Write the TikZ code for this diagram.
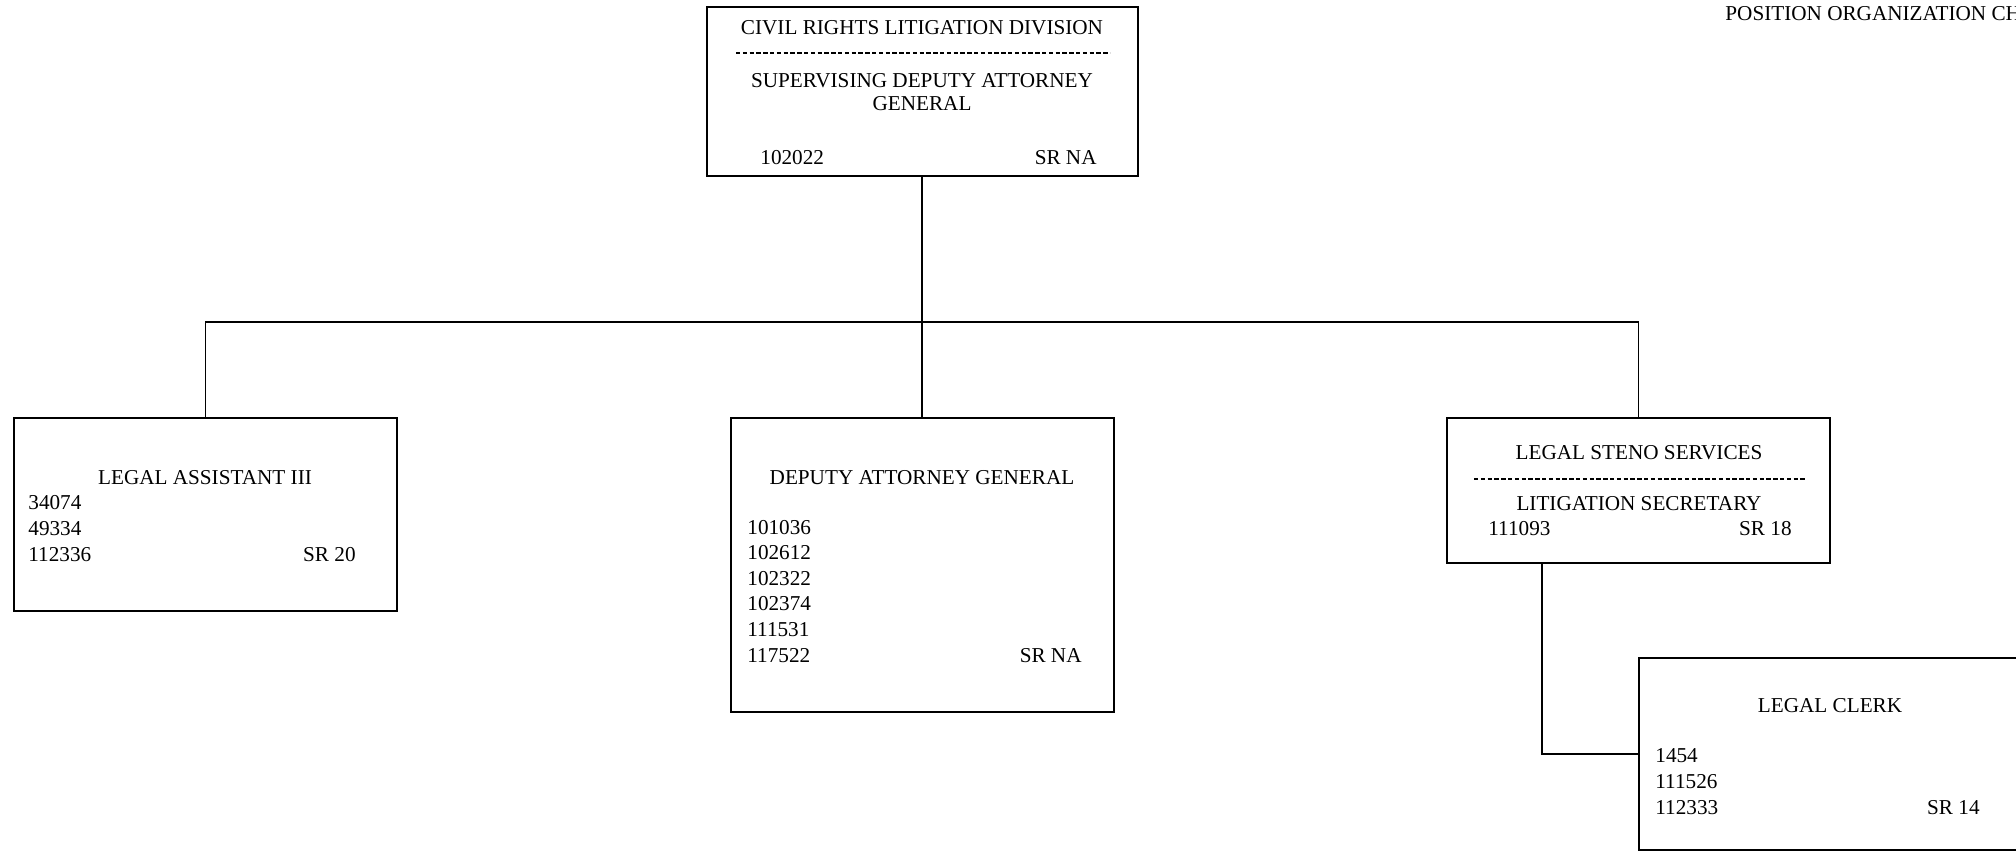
\documentclass[tikz,border=0pt]{standalone}
\usepackage{fontspec}
\setmainfont{Liberation Serif}
\usetikzlibrary{positioning}

\newcommand{\chartfont}{\fontsize{10.6}{12.8}\selectfont}

\begin{document}
\begin{tikzpicture}[x=0.5pt, y=-0.5pt, font=\chartfont,
    posbox/.style={draw, line width=1pt, inner sep=0pt, minimum width=191.5pt},
    txt/.style={inner sep=0pt},
    link/.style={line width=0.7pt},
    sep/.style={line width=0.6pt, dash pattern=on 2.2pt off 1.2pt}]
    \useasboundingbox (0,0) rectangle (2016,851);
    \clip (0,0) rectangle (2016,851);

    % Boxes {div, asst, dag, steno, clerk}
    \node [posbox, minimum width=215.5pt, minimum height=84.5pt] (div)   at (922,91.5)    {};
    \node [posbox, minimum height=96.5pt]                        (asst)  at (205.5,514.5) {};
    \node [posbox, minimum height=147pt]                         (dag)   at (922,565)     {};
    \node [posbox, minimum height=72.5pt]                        (steno) at (1638.5,490.5) {};
    \node [posbox, minimum height=96pt]                          (clerk) at (1830.5,754)  {};

    % Title
    \node [txt, anchor=base west] (title) at (1725,20) {POSITION ORGANIZATION CHART};

    % Division box
    \node [txt, anchor=base] (divname) at (922,34) {CIVIL RIGHTS LITIGATION DIVISION};
    \draw [sep] (736,53) -- (1110,53);
    \node [txt, anchor=base, align=center, font=\fontsize{10.6}{11.5}\selectfont] (divtitle) at (922,110) {SUPERVISING DEPUTY ATTORNEY\\GENERAL};
    \node [txt, anchor=base west] (divnum) at (760,164)  {102022};
    \node [txt, anchor=base east] (divsr)  at (1097,164) {SR NA};

    % Legal assistant box
    \node [txt, anchor=base] (asstname) at (205,484) {LEGAL ASSISTANT III};
    \node [txt, anchor=base west, align=left] (asstnum) at (28,561) {34074\\49334\\112336};
    \node [txt, anchor=base east] (asstsr) at (356,561) {SR 20};

    % Deputy attorney box
    \node [txt, anchor=base] (dagname) at (922,484) {DEPUTY ATTORNEY GENERAL};
    \node [txt, anchor=base west, align=left] (dagnum) at (747,662) {101036\\102612\\102322\\102374\\111531\\117522};
    \node [txt, anchor=base east] (dagsr) at (1082,662) {SR NA};

    % Steno box
    \node [txt, anchor=base] (stenoname) at (1639,459) {LEGAL STENO SERVICES};
    \draw [sep] (1474,479) -- (1806,479);
    \node [txt, anchor=base] (stenotitle) at (1639,510) {LITIGATION SECRETARY};
    \node [txt, anchor=base west] (stenonum) at (1488,535) {111093};
    \node [txt, anchor=base east] (stenosr)  at (1792,535) {SR 18};

    % Clerk box
    \node [txt, anchor=base] (clerkname) at (1830,712) {LEGAL CLERK};
    \node [txt, anchor=base west, align=left, font=\fontsize{10.6}{13}\selectfont] (clerknum) at (1655,814) {1454\\111526\\112333};
    \node [txt, anchor=base east] (clerksr) at (1980,814) {SR 14};

    % Paths
    \coordinate (bar) at (922,322);
    \draw [link] (div.south) -- (bar);
    \draw [link] (asst.north) |- (bar) -| (steno.north);
    \draw [link] (bar) -- (dag.north);
    \draw [link] ([xshift=48pt]steno.south west) |- (clerk.west);
\end{tikzpicture}
\end{document}
